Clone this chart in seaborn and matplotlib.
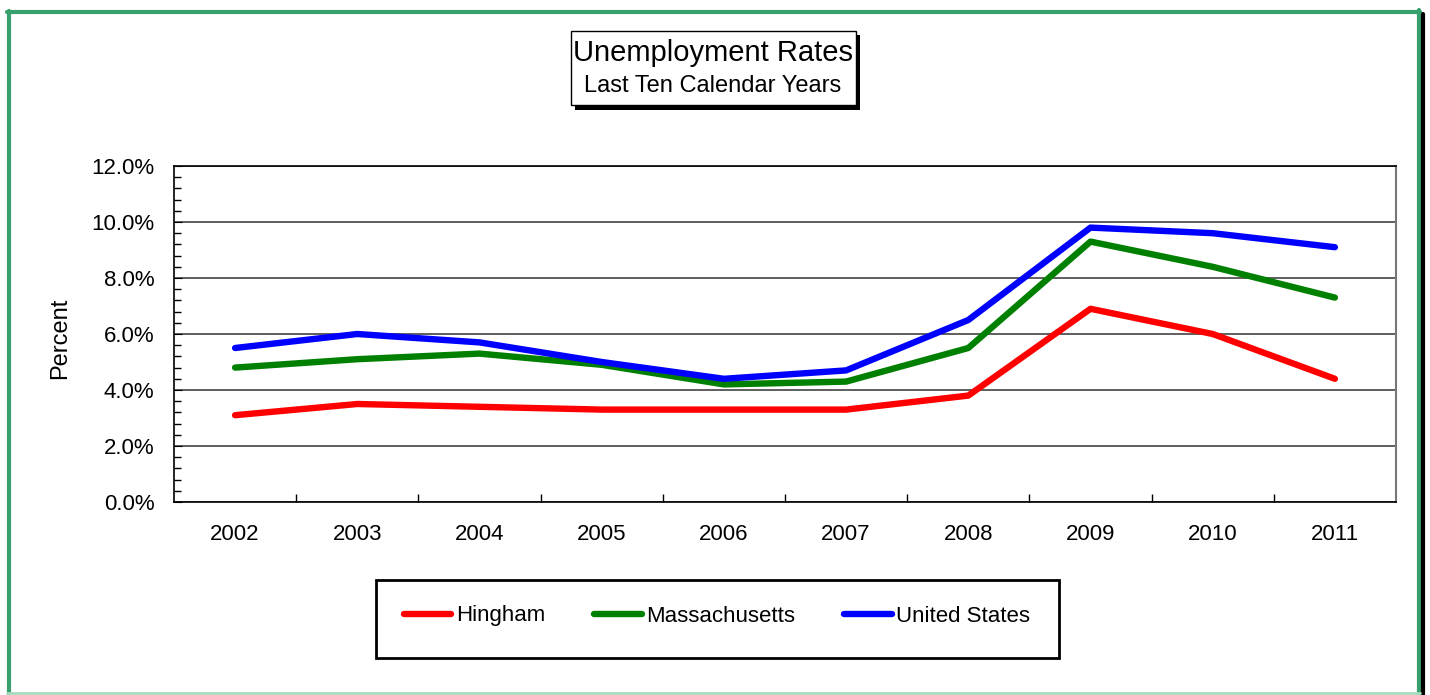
import pandas as pd
import matplotlib
matplotlib.use('Agg')
import matplotlib.pyplot as plt
import seaborn as sns
from matplotlib.patches import Rectangle
from matplotlib.lines import Line2D
from matplotlib.ticker import MultipleLocator, FuncFormatter

# data
years = ['2002', '2003', '2004', '2005', '2006', '2007', '2008', '2009', '2010', '2011']
hingham = [3.1, 3.5, 3.4, 3.3, 3.3, 3.3, 3.8, 6.9, 6.0, 4.4]
massachusetts = [4.8, 5.1, 5.3, 4.9, 4.2, 4.3, 5.5, 9.3, 8.4, 7.3]
united_states = [5.5, 6.0, 5.7, 5.0, 4.4, 4.7, 6.5, 9.8, 9.6, 9.1]
series_names = ['Hingham', 'Massachusetts', 'United States']
colors = {'Hingham': '#ff0000', 'Massachusetts': '#008000', 'United States': '#0000ff'}

rows = []
for name, vals in zip(series_names, [hingham, massachusetts, united_states]):
    for i, v in enumerate(vals):
        rows.append([name, i, v])
df = pd.DataFrame(rows, columns=['Series', 'pos', 'Rate'])

sns.set_style('white')
plt.rcParams['font.family'] = ['Liberation Sans', 'DejaVu Sans']
plt.rcParams['text.color'] = 'black'
plt.rcParams['xtick.color'] = 'black'
plt.rcParams['ytick.color'] = 'black'

W, H = 1430, 695
fig = plt.figure(figsize=(14.3, 6.95), dpi=100)

def fx(px):
    return px / W

def fy(py):
    return 1 - py / H

ax = fig.add_axes([fx(174), fy(502), fx(1396) - fx(174), fy(166) - fy(502)])
sns.lineplot(data=df, x='pos', y='Rate', hue='Series', palette=colors,
             linewidth=4.6, ax=ax, legend=False)
for ln in ax.lines:
    ln.set_solid_capstyle('round')
    ln.set_solid_joinstyle('round')

ax.set_xlim(-0.5, 9.5)
ax.set_ylim(0, 12)
ax.set_xticks(range(len(years)))
ax.set_xticklabels(years)
ax.set_xticks([i + 0.5 for i in range(len(years) - 1)], minor=True)
ax.yaxis.set_major_locator(MultipleLocator(2))
ax.yaxis.set_minor_locator(MultipleLocator(0.4))
ax.yaxis.set_major_formatter(FuncFormatter(lambda v, p: f'{v:.1f}%'))
ax.tick_params(axis='x', which='major', length=0, pad=16, labelsize=16)
ax.tick_params(axis='x', which='minor', direction='in', length=6, width=1, bottom=True)
ax.tick_params(axis='y', which='major', direction='in', length=6, pad=14, labelsize=16, left=True)
ax.tick_params(axis='y', which='minor', direction='in', length=5, width=1, left=True)
ax.grid(axis='y', which='major', color='#333333', linewidth=1.1)
ax.set_axisbelow(True)
ax.set_xlabel('')
ax.set_ylabel('')
for s in ['left', 'top', 'bottom']:
    ax.spines[s].set_color('black')
    ax.spines[s].set_linewidth(1.2)
ax.spines['right'].set_color('#777777')
ax.spines['right'].set_linewidth(1.5)

fig.text(fx(60), fy(338), 'Percent', rotation=90, ha='center', va='center', fontsize=17)

# title box with drop shadow
fig.patches.append(Rectangle((fx(575), fy(110)), fx(860) - fx(575), fy(35) - fy(110),
                             transform=fig.transFigure, facecolor='black', edgecolor='none'))
fig.patches.append(Rectangle((fx(571), fy(105)), fx(856) - fx(571), fy(31) - fy(105),
                             transform=fig.transFigure, facecolor='white', edgecolor='black', linewidth=1))
fig.text(fx(713), fy(53), 'Unemployment Rates', ha='center', va='center', fontsize=21)
fig.text(fx(713), fy(86), 'Last Ten Calendar Years', ha='center', va='center', fontsize=17)

# legend box
fig.patches.append(Rectangle((fx(376), fy(658)), fx(1059) - fx(376), fy(580) - fy(658),
                             transform=fig.transFigure, facecolor='white', edgecolor='black', linewidth=2))
handles = [Line2D([0], [0], color=colors[n], linewidth=4.6, solid_capstyle='round') for n in series_names]
fig.legend(handles, series_names, loc='center', bbox_to_anchor=(fx(717), fy(616)), ncol=3,
           frameon=False, handlelength=2.15, handletextpad=0.2, columnspacing=2.2, fontsize=16)

# green outer border
green = '#38a06c'
fig.add_artist(Line2D([fx(8.5), fx(8.5)], [fy(11), fy(695)], transform=fig.transFigure, color=green, linewidth=3))
fig.add_artist(Line2D([fx(7), fx(1420)], [fy(11.5), fy(11.5)], transform=fig.transFigure, color=green, linewidth=3))
fig.add_artist(Line2D([fx(1418.5), fx(1418.5)], [fy(10), fy(695)], transform=fig.transFigure, color=green, linewidth=3))
fig.add_artist(Line2D([fx(1422.5), fx(1422.5)], [fy(14), fy(695)], transform=fig.transFigure, color='black', linewidth=3))
fig.add_artist(Line2D([fx(7), fx(1420)], [fy(693), fy(693)], transform=fig.transFigure, color='#a8dcc0', linewidth=2))

fig.savefig('out.png', dpi=100)
